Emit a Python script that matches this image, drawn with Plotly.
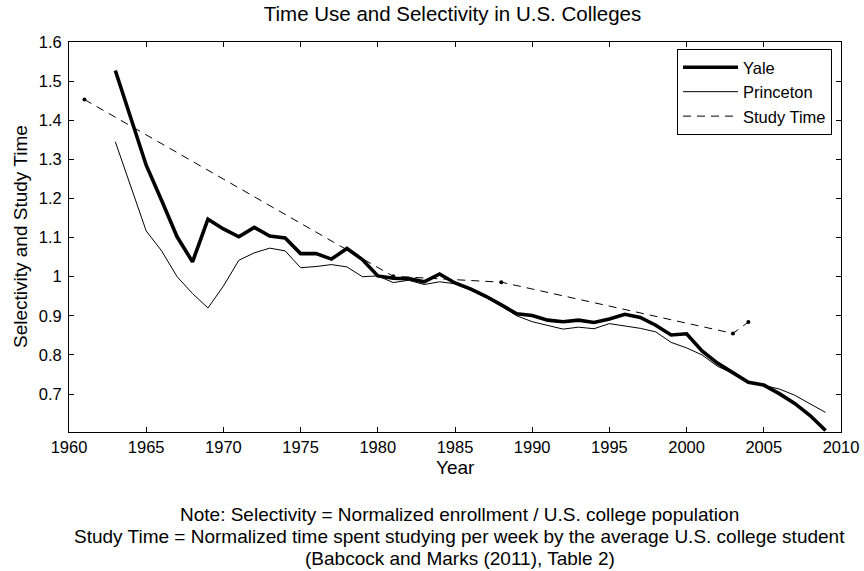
import plotly.graph_objects as go

years = list(range(1963, 2010))
yale = [1.527, 1.408, 1.285, 1.195, 1.102, 1.038, 1.147, 1.122, 1.102, 1.126,
        1.104, 1.099, 1.059, 1.059, 1.045, 1.072, 1.044, 1.002, 0.996, 0.995,
        0.987, 1.007, 0.984, 0.969, 0.950, 0.928, 0.905, 0.901, 0.889, 0.885,
        0.889, 0.883, 0.892, 0.904, 0.896, 0.876, 0.851, 0.854, 0.810, 0.779,
        0.754, 0.730, 0.723, 0.701, 0.676, 0.645, 0.607]
princeton = [1.345, 1.232, 1.117, 1.066, 1.000, 0.957, 0.920, 0.976, 1.042, 1.061,
             1.073, 1.066, 1.023, 1.026, 1.031, 1.025, 1.000, 1.002, 0.985, 0.991,
             0.980, 0.987, 0.982, 0.966, 0.947, 0.925, 0.900, 0.885, 0.875, 0.866,
             0.871, 0.867, 0.880, 0.874, 0.868, 0.859, 0.832, 0.818, 0.800, 0.771,
             0.753, 0.731, 0.722, 0.713, 0.697, 0.676, 0.653]
study_years = [1961, 1981, 1988, 2003, 2004]
study_time = [1.453, 1.001, 0.986, 0.855, 0.884]

x_ticks = list(range(1960, 2011, 5))
y_ticks = [0.7, 0.8, 0.9, 1.0, 1.1, 1.2, 1.3, 1.4, 1.5, 1.6]
y_tick_labels = ["0.7", "0.8", "0.9", "1", "1.1", "1.2", "1.3", "1.4", "1.5", "1.6"]

title = "Time Use and Selectivity in U.S. Colleges"
x_title = "Year"
y_title = "Selectivity and Study Time"
note_lines = [
    "Note: Selectivity = Normalized enrollment / U.S. college population",
    "Study Time = Normalized time spent studying per week by the average U.S. college student",
    "(Babcock and Marks (2011), Table 2)",
]

FONT = "Liberation Sans, Arial, Helvetica, sans-serif"
L, R, T, B = 69, 23, 42, 139
PH = 571 - T - B
PW = 864 - L - R


def py(pix):
    return 1 - (pix - T) / PH


def px(pix):
    return (pix - L) / PW


fig = go.Figure()
fig.add_trace(go.Scatter(x=years, y=yale, name="Yale", mode="lines",
                         line=dict(color="black", width=3.6)))
fig.add_trace(go.Scatter(x=years, y=princeton, name="Princeton", mode="lines",
                         line=dict(color="black", width=1)))
fig.add_trace(go.Scatter(x=study_years, y=study_time, name="Study Time", mode="lines",
                         legendgroup="st",
                         line=dict(color="black", width=1, dash="8px,6px")))
fig.add_trace(go.Scatter(x=study_years, y=study_time, name="Study Time", mode="markers",
                         legendgroup="st", showlegend=False,
                         marker=dict(color="black", size=4, symbol="circle")))

axis_common = dict(showline=True, linecolor="black", linewidth=1, mirror="ticks",
                   ticks="inside", ticklen=5, tickcolor="black", tickwidth=1,
                   showgrid=False, zeroline=False, automargin=False,
                   tickfont=dict(family=FONT, size=16.5, color="black"))

fig.update_layout(
    width=864, height=571,
    margin=dict(l=L, r=R, t=T, b=B),
    paper_bgcolor="white", plot_bgcolor="white",
    font=dict(family=FONT, color="black"),
    title=dict(text=title, x=px(452.5), xref="paper", xanchor="center", y=1 - 14 / 571,
               yref="container", yanchor="middle",
               font=dict(family=FONT, size=20.5, color="black")),
    xaxis=dict(range=[1960, 2010], tickvals=x_ticks, **axis_common),
    yaxis=dict(range=[0.603, 1.6], tickvals=y_ticks, ticktext=y_tick_labels,
               ticklabelstandoff=3, **axis_common),
    showlegend=True,
    legend=dict(x=px(832), xanchor="right", y=py(49), yanchor="top",
                bordercolor="black", borderwidth=1, bgcolor="white",
                font=dict(family=FONT, size=16.5, color="black"),
                tracegroupgap=0, itemwidth=55),
)

fig.add_annotation(text=x_title, xref="paper", yref="paper", x=px(455), y=py(468),
                   xanchor="center", yanchor="middle", showarrow=False,
                   font=dict(family=FONT, size=19, color="black"))
fig.add_annotation(text=y_title, xref="paper", yref="paper", x=px(20), y=0.5,
                   xanchor="center", yanchor="middle", textangle=-90, showarrow=False,
                   font=dict(family=FONT, size=19, color="black"))

for i, line in enumerate(note_lines):
    fig.add_annotation(text=line, xref="paper", yref="paper",
                       x=px(459.5), y=py(514 + 22 * i), xanchor="center", yanchor="middle",
                       showarrow=False, font=dict(family=FONT, size=19, color="black"))

fig.write_html("out.html", config={"displayModeBar": False},
               post_script="document.body.style.margin='0';document.body.style.overflow='hidden';")
